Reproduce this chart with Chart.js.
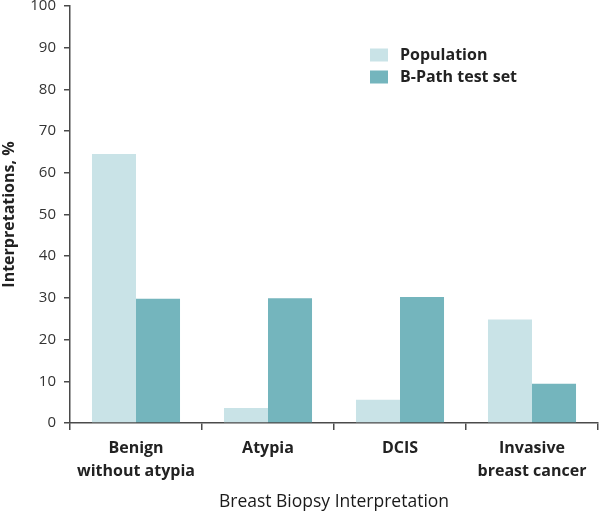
<!DOCTYPE html>
<html lang="en">
<head>
    <meta charset="UTF-8">
    <title>Breast Biopsy Interpretation</title>
    <script src="https://cdn.jsdelivr.net/npm/chart.js"></script>
    <style>
        html, body { margin: 0; padding: 0; background: #fff; }
        #chart-container { width: 600px; height: 513px; }
    </style>
</head>
<body>
    <div id="chart-container">
        <canvas id="myChart"></canvas>
    </div>
<script>
// Chart data
const categories = [["Benign", "without atypia"], "Atypia", "DCIS", ["Invasive", "breast cancer"]]
const seriesNames = ["Population", "B-Path test set"]
const populationValues = [64.5, 3.6, 5.6, 24.8]
const testSetValues = [29.8, 29.9, 30.2, 9.4]
const yTicks = [0, 10, 20, 30, 40, 50, 60, 70, 80, 90, 100]

const fontFamily = "'Open Sans', 'Noto Sans', sans-serif"
const axisColor = "#4a4a4a"

// Draws the legend inside the plot, top right
const legendInside = {
    id: "legendInside",
    afterDraw(chart) {
        const ctx = chart.ctx
        ctx.save()
        ctx.font = "bold 16px " + fontFamily
        ctx.textBaseline = "middle"
        chart.data.datasets.forEach((ds, i) => {
            const y = 55 + i * 22
            ctx.fillStyle = ds.backgroundColor
            ctx.fillRect(370, y - 6.5, 18, 13)
            ctx.fillStyle = "#222"
            ctx.fillText(ds.label, 400, y)
        })
        ctx.restore()
    }
}

new Chart(document.getElementById("myChart"), {
    type: "bar",
    data: {
        labels: categories,
        datasets: [
            { label: seriesNames[0], data: populationValues, backgroundColor: "#c9e3e7" },
            { label: seriesNames[1], data: testSetValues, backgroundColor: "#74b5bd" }
        ]
    },
    options: {
        responsive: true,
        maintainAspectRatio: false,
        animation: false,
        layout: { padding: { top: 0, right: 2, left: 0, bottom: 0 } },
        datasets: { bar: { categoryPercentage: 0.667, barPercentage: 1.0 } },
        plugins: {
            legend: { display: false },
            tooltip: { enabled: false }
        },
        scales: {
            x: {
                grid: { offset: true, drawOnChartArea: false, tickLength: 7, color: axisColor, lineWidth: 1.5 },
                border: { color: axisColor, width: 1.5 },
                ticks: { color: "#222", font: { family: fontFamily, size: 16, weight: "bold", lineHeight: 1.45 }, padding: 7 },
                title: { display: true, text: "Breast Biopsy Interpretation", color: "#1a1a1a",
                         font: { family: fontFamily, size: 17.5 }, padding: { top: 8, bottom: 0 } },
                afterFit(axis) { axis.height = 90 }
            },
            y: {
                min: 0,
                max: 100,
                afterBuildTicks(axis) { axis.ticks = yTicks.map(v => ({ value: v })) },
                grid: { drawOnChartArea: false, tickLength: 6, color: axisColor, lineWidth: 1.5 },
                border: { color: axisColor, width: 1.5 },
                ticks: { color: "#333", font: { family: fontFamily, size: 15 }, padding: 8 },
                title: { display: true, text: "Interpretations, %", color: "#222",
                         font: { family: fontFamily, size: 16, weight: "bold" }, padding: 0 },
                afterFit(axis) {
                    axis.width = 70
                    axis.paddingTop = 6
                }
            }
        }
    },
    plugins: [legendInside]
})
</script>
</body>
</html>
